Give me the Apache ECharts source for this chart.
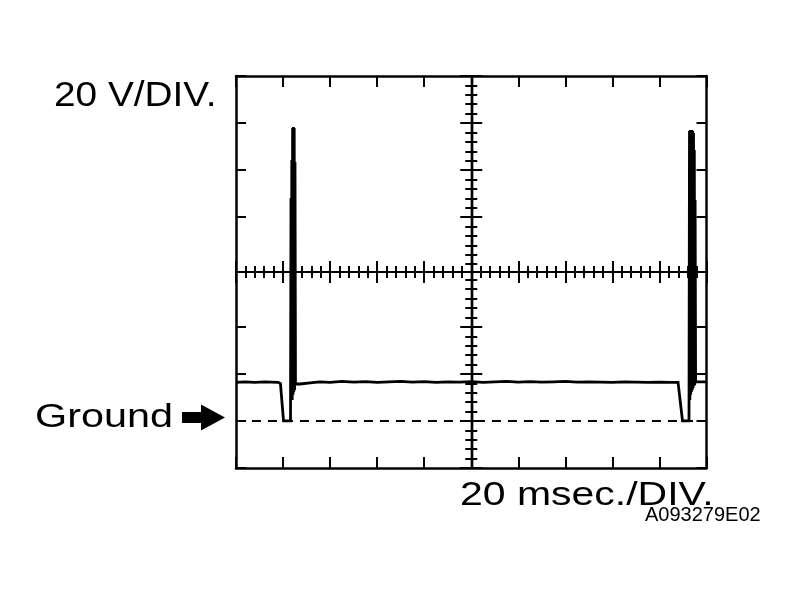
<!DOCTYPE html>
<html>
<head>
<meta charset="utf-8">
<script src="https://cdn.jsdelivr.net/npm/echarts@6/dist/echarts.min.js"></script>
<style>
html,body{margin:0;padding:0;background:#fff;}
#chart{width:799px;height:603px;}
</style>
</head>
<body>
<div id="chart"></div>
<script>
// ---- data (time in ms, voltage in V; ground = 0 V) ----
const timeMs = [0, 3.8, 8.1, 12.3, 17.9, 18.9, 20.2,
  23.17, 23.38, 23.55, 23.72, 23.89, 24.06, 24.23, 24.40, 24.57, 24.74, 24.91, 25.08, 25.29,
  27.2, 31.5, 35.7,
  40, 45, 50, 55, 60, 65, 70, 75, 80, 85, 90, 95, 100, 105, 110, 115, 120, 125, 130, 135, 140, 145, 150,
  155, 160, 165, 170, 175, 180, 185, 187.9, 188.7, 189.8,
  192.56, 192.77, 192.94, 193.11, 193.28, 193.45, 193.62, 193.79, 193.96, 194.13, 194.31, 194.48, 194.65,
  194.82, 194.99, 195.16, 195.37, 200];
const volts = [16.4, 16.6, 16.4, 16.6, 16.4, 15.9, 0,
  0, 94.8, 8.9, 110.9, 8.9, 124.5, 11.1, 125.0, 12.3, 124.5, 13.2, 110.1, 15.7,
  15.7, 16.2, 16.6,
  16.4, 16.8, 16.5, 16.7, 16.4, 16.6, 16.8, 16.5, 16.7, 16.4, 16.6, 16.5, 16.7, 16.4, 16.6, 16.8, 16.5, 16.7, 16.5, 16.6, 16.8, 16.5, 16.6,
  16.5, 16.4, 16.6, 16.5, 16.4, 16.5, 16.4, 16.4, 16.2, 0,
  0, 123.3, 8.9, 123.7, 11.1, 123.7, 12.3, 123.7, 13.2, 123.3, 14.0, 122.4, 14.9,
  115.2, 15.3, 93.9, 16.6, 16.6];

// tick values
const xMajorTicks = [0, 20, 40, 60, 80, 100, 120, 140, 160, 180, 200];        // ms, border axes
const yBorderTicks = [-20, 0, 20, 40, 86.63, 106.63, 126.63, 146.63];           // V, border axes
const yCenterLower = [-83.32, -63.32, -43.32, -23.32, -3.32];                   // V about centre, lower half
const yCenterUpper = [3.32, 23.32, 43.32, 63.32, 83.32];                         // V about centre, upper half
const groundLevel = 0;

// texts
const voltText = '20 V/DIV.';
const timeText = '20 msec./DIV.';
const groundText = 'Ground';
const codeText = 'A093279E02';

// centre vertical line: long ticks at whole divisions, short ticks at 1/5 divisions
function subdivide(arr, n) {
  const out = [];
  for (let i = 0; i < arr.length - 1; i++)
    for (let k = 1; k < n; k++) out.push(arr[i] + (arr[i + 1] - arr[i]) * k / n);
  return out;
}
const yCenterLong = yCenterLower.slice(0, 4).concat(yCenterUpper.slice(1));
const yCenterShort = subdivide(yCenterLower, 5).concat([yCenterLower[4], yCenterUpper[0]], subdivide(yCenterUpper, 5));

const chart = echarts.init(document.getElementById('chart'), null, {renderer: 'canvas'});
const BLACK = '#000';
const box = {left: 236, top: 76, width: 470.5, height: 392};

function borderX(pos) {
  return {
    gridIndex: 0, type: 'value', position: pos, min: 0, max: 200,
    axisLine: {show: true, onZero: false, lineStyle: {color: BLACK, width: 2.5}},
    axisTick: {show: true, inside: true, length: 11, customValues: xMajorTicks, lineStyle: {color: BLACK, width: 2}},
    axisLabel: {show: false}, splitLine: {show: false}
  };
}
function borderY(pos) {
  return {
    gridIndex: 0, type: 'value', position: pos, min: -20, max: 146.63,
    axisLine: {show: true, onZero: false, lineStyle: {color: BLACK, width: 2.5}},
    axisTick: {show: true, inside: true, length: 10, customValues: yBorderTicks, lineStyle: {color: BLACK, width: 2}},
    axisLabel: {show: false}, splitLine: {show: false}
  };
}
function centerX(inside) {
  return {
    gridIndex: 1, type: 'value', position: 'bottom', min: -100, max: 100, interval: 20,
    axisLine: {show: true, onZero: true, lineStyle: {color: BLACK, width: 2.2}},
    axisTick: {show: true, inside: inside, length: 11, lineStyle: {color: BLACK, width: 2}},
    minorTick: {show: true, splitNumber: 5, length: 6, lineStyle: {color: BLACK, width: 2}},
    axisLabel: {show: false}, splitLine: {show: false}, minorSplitLine: {show: false}
  };
}
// hidden x axes in the centre grid that only serve as "zero" references for the centre y axes
function refX() {
  return {gridIndex: 1, type: 'value', show: false, position: 'bottom', min: -100, max: 100,
    axisLine: {onZero: false}, splitLine: {show: false}};
}
function centerY(inside, values, len) {
  return {
    gridIndex: 1, type: 'value', position: 'left', min: -83.32, max: 83.32,
    axisLine: {show: true, onZero: true, lineStyle: {color: BLACK, width: 2.2}},
    axisTick: {show: true, inside: inside, length: len, customValues: values, lineStyle: {color: BLACK, width: 2}},
    axisLabel: {show: false}, splitLine: {show: false}
  };
}

function txt(text, x, y, size, sx) {
  return {
    type: 'text', x: x, y: y, scaleX: sx, silent: true,
    style: {text: text, x: 0, y: 0, fill: BLACK, font: 'normal ' + size + 'px "Liberation Sans", Arial, sans-serif',
      verticalAlign: 'top', align: 'left'}
  };
}

const option = {
  animation: false,
  backgroundColor: '#fff',
  grid: [Object.assign({}, box), Object.assign({}, box)],
  xAxis: [borderX('bottom'), borderX('top'), centerX(true), centerX(false), refX(), refX()],
  yAxis: [borderY('left'), borderY('right'),
    centerY(true, yCenterLong, 11), centerY(false, yCenterLong, 11),
    centerY(true, yCenterShort, 6), centerY(false, yCenterShort, 6)],
  series: [{
    type: 'line', xAxisIndex: 0, yAxisIndex: 0,
    data: timeMs.map((t, i) => [t, volts[i]]),
    showSymbol: false, symbol: 'none', smooth: false,
    lineStyle: {color: BLACK, width: 2.8, join: 'miter'},
    markLine: {
      silent: true, symbol: ['none', 'none'], label: {show: false},
      lineStyle: {color: BLACK, width: 2, type: [9, 7]},
      data: [{yAxis: groundLevel}]
    }
  }],
  graphic: [
    txt(voltText, 54, 79, 35, 1.108),
    txt(groundText, 35, 401, 34, 1.217),
    txt(timeText, 460, 479, 34, 1.205),
    txt(codeText, 645, 505, 20, 1.0),
    {type: 'polygon', silent: true,
      shape: {points: [[182, 412], [201, 412], [201, 404.5], [225, 417.5], [201, 430.5], [201, 423], [182, 423]]},
      style: {fill: BLACK}}
  ]
};
chart.setOption(option);
</script>
</body>
</html>
